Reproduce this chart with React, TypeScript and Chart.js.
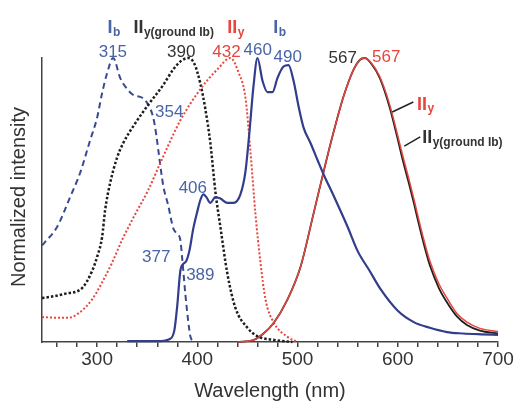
import { useEffect, useRef } from "react";
import { Chart, registerables } from "chart.js";

Chart.register(...registerables);

// ---- data (wavelength in nm, normalized intensity) ----
const IB_EXC_NM = [245, 248, 260, 273, 283, 293, 300, 305, 310, 316, 323, 328, 336, 345, 351, 356, 359, 362, 366, 371, 376, 380, 383, 385, 388, 391, 393, 396];
const IB_EXC_I = [0.34, 0.352, 0.405, 0.51, 0.595, 0.71, 0.79, 0.877, 0.947, 1.0, 0.93, 0.9, 0.87, 0.86, 0.835, 0.79, 0.73, 0.65, 0.55, 0.48, 0.4, 0.38, 0.36, 0.29, 0.17, 0.07, 0.02, 0.0];

const IIYG_EXC_NM = [245, 255, 268, 285, 295, 300, 305, 308, 313, 320, 326, 338, 351, 366, 376, 384, 391, 397, 403, 408, 413, 418, 423, 430, 438, 450, 460, 475, 495];
const IIYG_EXC_I = [0.155, 0.16, 0.17, 0.19, 0.25, 0.3, 0.37, 0.465, 0.56, 0.65, 0.7, 0.77, 0.835, 0.905, 0.96, 0.99, 1.0, 0.98, 0.91, 0.82, 0.7, 0.53, 0.405, 0.24, 0.12, 0.05, 0.02, 0.008, 0.0];

const IIY_EXC_NM = [245, 255, 271, 281, 295, 305, 315, 325, 338, 351, 363, 383, 403, 420, 433, 441, 448, 453, 458, 463, 468, 476, 490, 500];
const IIY_EXC_I = [0.088, 0.086, 0.085, 0.1, 0.15, 0.21, 0.28, 0.36, 0.45, 0.535, 0.63, 0.78, 0.89, 0.96, 1.0, 0.95, 0.86, 0.67, 0.45, 0.28, 0.15, 0.07, 0.018, 0.0];

const IB_EM_NM = [330, 360, 372, 377, 380, 383, 386, 389, 392, 396, 400, 403, 406, 409, 413, 418, 423, 430, 436, 443, 448, 452, 456, 460, 465, 470, 475, 480, 486, 491, 496, 501, 506, 513, 520, 526, 536, 550, 560, 572, 583, 600, 616, 632, 649, 665, 683, 700];
const IB_EM_I = [0.003, 0.003, 0.01, 0.04, 0.13, 0.25, 0.275, 0.285, 0.32, 0.4, 0.46, 0.5, 0.52, 0.51, 0.49, 0.51, 0.505, 0.49, 0.49, 0.52, 0.6, 0.74, 0.9, 1.0, 0.92, 0.88, 0.88, 0.93, 0.97, 0.975, 0.92, 0.83, 0.755, 0.7, 0.64, 0.59, 0.515, 0.405, 0.32, 0.25, 0.185, 0.11, 0.07, 0.05, 0.035, 0.03, 0.027, 0.025];

const IIY_EM_NM = [440, 456, 466, 476, 490, 503, 516, 526, 536, 546, 556, 562, 567, 573, 582, 592, 599, 605, 611, 616, 621, 626, 632, 641, 649, 659, 669, 682, 700];
const IIY_EM_I = [0, 0.007, 0.03, 0.066, 0.15, 0.265, 0.453, 0.6, 0.74, 0.866, 0.96, 0.993, 1.0, 0.985, 0.935, 0.835, 0.74, 0.655, 0.575, 0.505, 0.43, 0.36, 0.285, 0.205, 0.155, 0.1, 0.07, 0.048, 0.037];
const IIYG_EM_I = [0, 0.007, 0.03, 0.066, 0.15, 0.265, 0.453, 0.6, 0.74, 0.866, 0.96, 0.993, 1.0, 0.983, 0.93, 0.825, 0.728, 0.64, 0.56, 0.49, 0.415, 0.345, 0.27, 0.19, 0.14, 0.09, 0.06, 0.04, 0.03];

const X_TICKS = [260, 280, 300, 320, 340, 360, 380, 400, 420, 440, 460, 480, 500, 520, 540, 560, 580, 600, 620, 640, 660, 680, 700];
const X_TICK_LABELS = [300, 400, 500, 600, 700];

const BLUE_LINE = "#323d8c";
const BLUE_TEXT = "#4a64a8";
const RED = "#e6463d";
const DARK = "#1e1e1e";
const DARK_TEXT = "#333333";

// peak annotations: text anchored (centre, baseline) at data coordinates
const PEAK_LABELS = [
  { text: "315", nm: 315.7, v: 1.004, color: BLUE_TEXT },
  { text: "390", nm: 384, v: 1.004, color: DARK_TEXT },
  { text: "432", nm: 429, v: 1.004, color: RED },
  { text: "460", nm: 460.3, v: 1.011, color: BLUE_TEXT },
  { text: "490", nm: 490.2, v: 0.986, color: BLUE_TEXT },
  { text: "567", nm: 545, v: 0.982, color: DARK_TEXT },
  { text: "567", nm: 588.4, v: 0.986, color: RED },
  { text: "354", nm: 372, v: 0.792, color: BLUE_TEXT },
  { text: "406", nm: 395.5, v: 0.525, color: BLUE_TEXT },
  { text: "377", nm: 359, v: 0.282, color: BLUE_TEXT },
  { text: "389", nm: 403, v: 0.218, color: BLUE_TEXT },
];

// series names: main + subscript, anchored (left, baseline)
const NAME_LABELS = [
  { main: "I", sub: "b", nm: 310.3, v: 1.088, color: BLUE_TEXT },
  { main: "II", sub: "y(ground Ib)", nm: 336.2, v: 1.088, color: DARK_TEXT },
  { main: "II", sub: "y", nm: 429.9, v: 1.088, color: RED },
  { main: "I", sub: "b", nm: 475.8, v: 1.088, color: BLUE_TEXT },
  { main: "II", sub: "y", nm: 619.3, v: 0.817, color: RED },
  { main: "II", sub: "y(ground Ib)", nm: 624.3, v: 0.7, color: DARK_TEXT },
];

const LEADERS = [
  { nm1: 594.5, v1: 0.81, nm2: 615.5, v2: 0.845 },
  { nm1: 606.5, v1: 0.69, nm2: 622.4, v2: 0.722 },
];

const FONT = "'Liberation Sans', Arial, Helvetica, sans-serif";

function pts(xs: number[], ys: number[]) {
  return xs.map((x, i) => ({ x, y: ys[i] }));
}

const annotationPlugin = {
  id: "annotations",
  afterDraw(chart: any) {
    const { ctx, scales } = chart;
    const xs = scales.x;
    const ys = scales.y;
    ctx.save();
    ctx.font = `17px ${FONT}`;
    ctx.textAlign = "center";
    ctx.textBaseline = "alphabetic";
    for (const l of PEAK_LABELS) {
      ctx.fillStyle = l.color;
      ctx.fillText(l.text, xs.getPixelForValue(l.nm), ys.getPixelForValue(l.v));
    }
    ctx.textAlign = "left";
    for (const l of NAME_LABELS) {
      const x = xs.getPixelForValue(l.nm);
      const y = ys.getPixelForValue(l.v);
      ctx.fillStyle = l.color;
      ctx.font = `bold 18px ${FONT}`;
      ctx.fillText(l.main, x, y);
      const w = ctx.measureText(l.main).width;
      ctx.font = `bold 12px ${FONT}`;
      ctx.fillText(l.sub, x + w + 0.5, y + 2.5);
    }
    ctx.strokeStyle = "#222";
    ctx.lineWidth = 1.5;
    for (const d of LEADERS) {
      ctx.beginPath();
      ctx.moveTo(xs.getPixelForValue(d.nm1), ys.getPixelForValue(d.v1));
      ctx.lineTo(xs.getPixelForValue(d.nm2), ys.getPixelForValue(d.v2));
      ctx.stroke();
    }
    ctx.fillStyle = "#333";
    ctx.font = `20px ${FONT}`;
    ctx.textAlign = "center";
    ctx.textBaseline = "alphabetic";
    ctx.fillText("Wavelength (nm)", (xs.left + xs.right) / 2, 397);
    ctx.save();
    ctx.translate(19, (ys.top + ys.bottom) / 2 - 3);
    ctx.rotate(-Math.PI / 2);
    ctx.textBaseline = "middle";
    ctx.fillText("Normalized intensity", 0, 0);
    ctx.restore();
    ctx.restore();
  },
};

export default function App() {
  const ref = useRef<HTMLCanvasElement | null>(null);
  useEffect(() => {
    if (!ref.current) return;
    Chart.defaults.font.family = FONT;
    const common = { pointRadius: 0, borderCapStyle: "butt", cubicInterpolationMode: "monotone", fill: false, clip: false } as any;
    const chart = new Chart(ref.current, {
      type: "line",
      data: {
        datasets: [
          { ...common, label: "Ib emission", data: pts(IB_EM_NM, IB_EM_I), borderColor: BLUE_LINE, borderWidth: 2.2 },
          { ...common, label: "IIy emission", data: pts(IIY_EM_NM, IIY_EM_I), borderColor: RED, borderWidth: 1.5 },
          { ...common, label: "IIy(ground Ib) emission", data: pts(IIY_EM_NM, IIYG_EM_I), borderColor: DARK, borderWidth: 1.8 },
          { ...common, label: "IIy excitation", data: pts(IIY_EXC_NM, IIY_EXC_I), borderColor: RED, borderWidth: 2, borderDash: [2, 2] },
          { ...common, label: "IIy(ground Ib) excitation", data: pts(IIYG_EXC_NM, IIYG_EXC_I), borderColor: DARK, borderWidth: 2.5, borderDash: [2.5, 2] },
          { ...common, label: "Ib excitation", data: pts(IB_EXC_NM, IB_EXC_I), borderColor: "#3a4a90", borderWidth: 2, borderDash: [6, 4] },
        ],
      },
      options: {
        responsive: false,
        devicePixelRatio: 1,
        animation: false,
        events: [],
        layout: { padding: { left: 42, right: 21, top: 58, bottom: 0 } },
        plugins: { legend: { display: false }, tooltip: { enabled: false }, title: { display: false } },
        scales: {
          x: {
            type: "linear",
            min: 245,
            max: 700,
            afterBuildTicks: (s: any) => {
              s.ticks = X_TICKS.map((v) => ({ value: v }));
            },
            afterFit: (s: any) => {
              s.height = 61;
            },
            ticks: {
              autoSkip: false,
              maxRotation: 0,
              padding: 1,
              color: "#333",
              font: { size: 19, family: FONT },
              callback: (v: any) => (X_TICK_LABELS.includes(Number(v)) ? String(v) : ""),
            },
            grid: { display: true, drawOnChartArea: false, drawTicks: true, tickLength: 5, color: "#444", lineWidth: 1.5 },
            border: { display: true, color: "#444", width: 1.5 },
          },
          y: {
            type: "linear",
            min: 0,
            max: 1,
            ticks: { display: false },
            grid: { display: false },
            border: { display: true, color: "#444", width: 1.5 },
            afterFit: (s: any) => {
              s.width = 0;
            },
          },
        },
      } as any,
      plugins: [annotationPlugin],
    });
    return () => chart.destroy();
  }, []);
  return (
    <div style={{ position: "fixed", left: 0, top: 0, width: 519, height: 403, background: "#fff" }}>
      <canvas ref={ref} width={519} height={403} style={{ display: "block", width: 519, height: 403 }} />
    </div>
  );
}
